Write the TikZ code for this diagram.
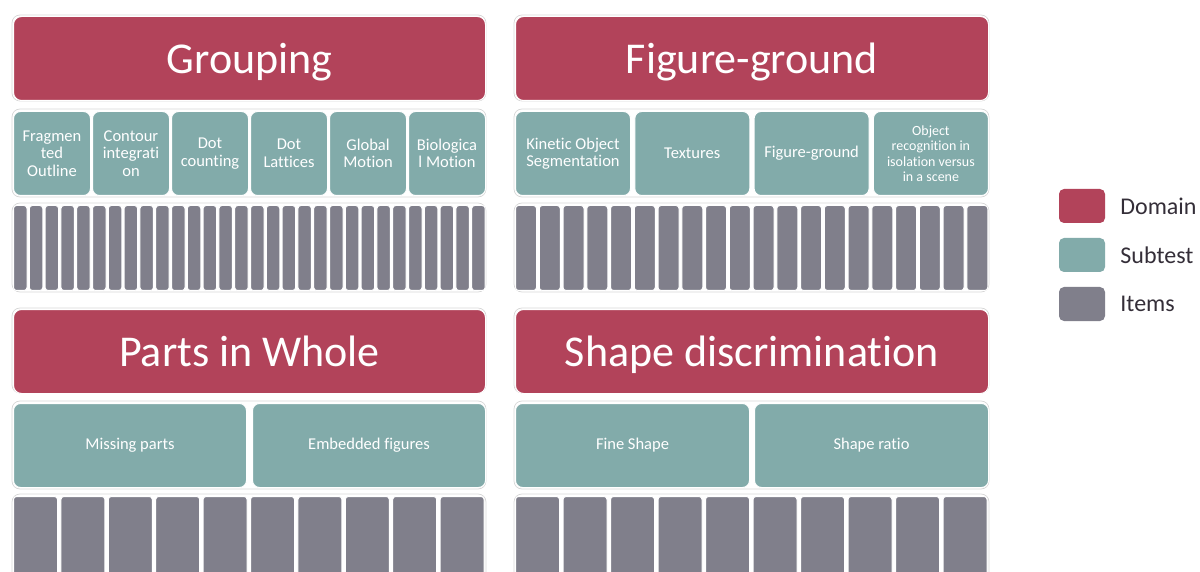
\documentclass[tikz,border=0pt]{standalone}
\usepackage{fontspec}
\setmainfont{Carlito}[Ligatures=NoCommon]
\usetikzlibrary{positioning}

\definecolor{domainred}{RGB}{178,67,90}
\definecolor{subteal}{RGB}{130,171,170}
\definecolor{itemgrey}{RGB}{128,127,139}
\definecolor{keytext}{RGB}{52,46,56}
\definecolor{framegrey}{RGB}{214,214,214}

\begin{document}
\begin{tikzpicture}[x=1pt, y=-1pt,
  cell/.style={draw=white, line width=1pt, inner sep=1pt, anchor=north west, text=white, align=center},
  domainbox/.style={cell, fill=domainred, rounded corners=8pt, minimum height=84pt, font=\fontsize{44}{48}\selectfont, text depth=0pt},
  subtestbox/.style={cell, fill=subteal, rounded corners=7pt, minimum height=84pt, font=\fontsize{16.5}{17.5}\selectfont},
  itembox/.style={cell, fill=itemgrey, rounded corners=3pt, minimum height=85pt},
  rowframe/.style={draw=framegrey, line width=0.7pt, rounded corners=8pt},
  swatch/.style={fill=#1, rounded corners=5pt, minimum width=46pt, minimum height=34pt, inner sep=0pt},
  keylabel/.style={text=keytext, font=\fontsize{24}{26}\selectfont, inner sep=0pt, anchor=west}
]
\useasboundingbox (0,0) rectangle (1200,572);
\clip (0,0) rectangle (1200,572);

% light frames round every row
\draw[rowframe] (12,15) rectangle (486,101);
\draw[rowframe] (12,109) rectangle (486,197);
\draw[rowframe] (12,203) rectangle (486,292);
\draw[rowframe] (514,15) rectangle (989,101);
\draw[rowframe] (514,109) rectangle (989,197);
\draw[rowframe] (514,203) rectangle (989,292);
\draw[rowframe] (12,308) rectangle (486,393);
\draw[rowframe] (12,401) rectangle (486,489);
\draw[rowframe] (12,494) rectangle (486,590);
\draw[rowframe] (514,308) rectangle (989,393);
\draw[rowframe] (514,401) rectangle (989,489);
\draw[rowframe] (514,494) rectangle (989,590);

% Grouping
\node[domainbox, minimum width=472pt] (grouping) at (13,16) {Grouping};
\node[subtestbox, minimum width=77pt] (frag) at (13,111) {Fragmen\\ted\\Outline};
\node[subtestbox, minimum width=77pt] (contour) at (92,111) {Contour\\integrati\\on};
\node[subtestbox, minimum width=77pt] (dotcount) at (171,111) {Dot\\counting};
\node[subtestbox, minimum width=77pt] (dotlat) at (250,111) {Dot\\Lattices};
\node[subtestbox, minimum width=77pt] (globmot) at (329,111) {Global\\Motion};
\node[subtestbox, minimum width=77pt] (biomot) at (408,111) {Biologica\\l Motion};
\foreach \i in {0,...,29}
  \node[itembox, minimum width=13.5pt] (grp-\i) at ({13+15.8*\i},205) {};

% Figure-ground
\node[domainbox, minimum width=473pt] (figground) at (515,16) {Figure-ground};
\node[subtestbox, minimum width=115pt] (kinetic) at (515,111) {Kinetic Object\\Segmentation};
\node[subtestbox, minimum width=115pt] (textures) at (634.3,111) {Textures};
\node[subtestbox, minimum width=115pt] (fgsub) at (753.6,111) {Figure-ground};
\node[subtestbox, minimum width=115pt, font=\fontsize{14}{15.5}\selectfont] (objrec) at (872.9,111) {Object\\recognition in\\isolation versus\\in a scene};
\foreach \i in {0,...,19}
  \node[itembox, minimum width=21pt] (fg-\i) at ({515+23.75*\i},205) {};

% Parts in Whole
\node[domainbox, minimum width=472pt] (partswhole) at (13,309) {Parts in Whole};
\node[subtestbox, minimum width=233pt] (missing) at (13,403) {Missing parts};
\node[subtestbox, minimum width=233pt] (embedded) at (252,403) {Embedded figures};
\foreach \i in {0,...,9}
  \node[itembox, minimum width=44pt] (pw-\i) at ({13+47.4*\i},496) {};

% Shape discrimination
\node[domainbox, minimum width=473pt] (shapedisc) at (515,309) {Shape discrimination};
\node[subtestbox, minimum width=234pt] (fineshape) at (515,403) {Fine Shape};
\node[subtestbox, minimum width=234pt] (shaperatio) at (754,403) {Shape ratio};
\foreach \i in {0,...,9}
  \node[itembox, minimum width=44pt] (sd-\i) at ({515+47.5*\i},496) {};

% key
\node[swatch=domainred] (keydomain) at (1082,206) {};
\node[swatch=subteal] (keysubtest) at (1082,255) {};
\node[swatch=itemgrey] (keyitems) at (1082,304) {};
\node[keylabel, right=15pt of keydomain] (keydomaintxt) {Domain};
\node[keylabel, right=15pt of keysubtest] (keysubtesttxt) {Subtest};
\node[keylabel, right=15pt of keyitems] (keyitemstxt) {Items};
\end{tikzpicture}
\end{document}
